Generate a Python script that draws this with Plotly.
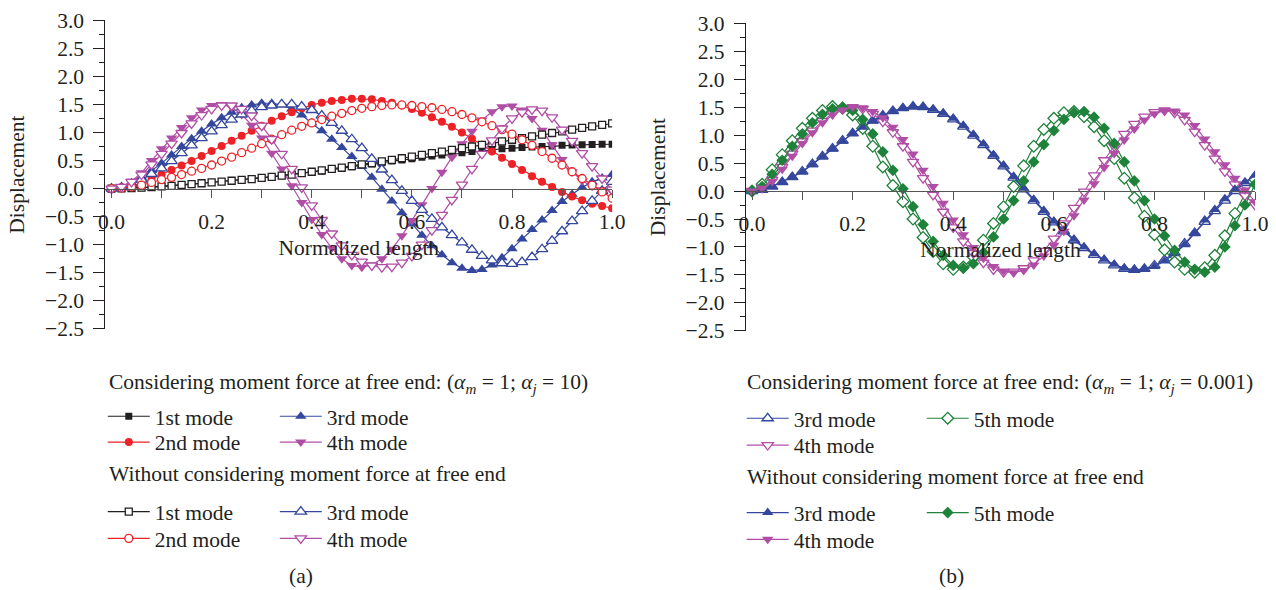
import plotly.graph_objects as go

# ---------------- data ----------------
X = [0.00, 0.02, 0.04, 0.06, 0.08, 0.10, 0.12, 0.14, 0.16, 0.18,
     0.20, 0.22, 0.24, 0.26, 0.28, 0.30, 0.32, 0.34, 0.36, 0.38,
     0.40, 0.42, 0.44, 0.46, 0.48, 0.50, 0.52, 0.54, 0.56, 0.58,
     0.60, 0.62, 0.64, 0.66, 0.68, 0.70, 0.72, 0.74, 0.76, 0.78,
     0.80, 0.82, 0.84, 0.86, 0.88, 0.90, 0.92, 0.94, 0.96, 0.98, 1.00]

# (a) considering moment force (alpha_m = 1, alpha_j = 10) -> filled markers
a_mode1_m = [0, 0.004, 0.01, 0.017, 0.026, 0.04, 0.05, 0.065, 0.08, 0.095,
             0.11, 0.125, 0.14, 0.155, 0.17, 0.19, 0.21, 0.23, 0.25, 0.27,
             0.29, 0.31, 0.34, 0.36, 0.39, 0.41, 0.44, 0.46, 0.49, 0.51,
             0.53, 0.56, 0.58, 0.60, 0.62, 0.64, 0.66, 0.68, 0.69, 0.71,
             0.72, 0.73, 0.74, 0.75, 0.76, 0.77, 0.775, 0.78, 0.785, 0.79, 0.79]
a_mode2_m = [0, 0.02, 0.05, 0.10, 0.17, 0.25, 0.33, 0.41, 0.49, 0.58,
             0.67, 0.76, 0.85, 0.94, 1.03, 1.12, 1.21, 1.29, 1.36, 1.43,
             1.49, 1.53, 1.56, 1.58, 1.60, 1.60, 1.59, 1.56, 1.53, 1.48,
             1.42, 1.35, 1.27, 1.19, 1.10, 1.00, 0.89, 0.78, 0.66, 0.55,
             0.44, 0.33, 0.22, 0.12, 0.03, -0.06, -0.14, -0.21, -0.27, -0.31, -0.35]
a_mode3_m = [0, 0.03, 0.10, 0.20, 0.32, 0.45, 0.60, 0.75, 0.89, 1.02,
             1.15, 1.26, 1.36, 1.44, 1.49, 1.52, 1.52, 1.49, 1.42, 1.31,
             1.17, 1.03, 0.88, 0.73, 0.57, 0.40, 0.20, -0.01, -0.22, -0.43,
             -0.63, -0.83, -1.02, -1.18, -1.32, -1.42, -1.46, -1.44, -1.36, -1.23,
             -1.07, -0.90, -0.73, -0.56, -0.39, -0.23, -0.10, 0.02, 0.12, 0.19, 0.25]
a_mode4_m = [0, 0.03, 0.13, 0.28, 0.50, 0.71, 0.90, 1.09, 1.26, 1.40,
             1.48, 1.50, 1.45, 1.32, 1.13, 0.90, 0.63, 0.35, 0.05, -0.25,
             -0.55, -0.82, -1.06, -1.25, -1.37, -1.40, -1.36, -1.25, -1.08, -0.84,
             -0.57, -0.29, 0.00, 0.29, 0.56, 0.80, 1.02, 1.22, 1.37, 1.46,
             1.47, 1.40, 1.25, 1.04, 0.78, 0.52, 0.30, 0.14, 0.04, -0.02, -0.05]

# (a) without moment force -> open markers
a_mode1_n = [0, 0.004, 0.01, 0.017, 0.026, 0.04, 0.05, 0.065, 0.08, 0.095,
             0.11, 0.125, 0.14, 0.155, 0.17, 0.19, 0.21, 0.23, 0.25, 0.275,
             0.30, 0.325, 0.35, 0.375, 0.40, 0.43, 0.455, 0.485, 0.51, 0.54,
             0.57, 0.60, 0.63, 0.66, 0.69, 0.72, 0.75, 0.78, 0.81, 0.84,
             0.87, 0.90, 0.93, 0.96, 0.99, 1.02, 1.05, 1.08, 1.11, 1.135, 1.16]
a_mode2_n = [0, 0.01, 0.03, 0.06, 0.11, 0.16, 0.20, 0.25, 0.31, 0.36,
             0.42, 0.49, 0.56, 0.64, 0.72, 0.80, 0.88, 0.96, 1.04, 1.11,
             1.17, 1.23, 1.29, 1.34, 1.39, 1.43, 1.46, 1.48, 1.49, 1.49,
             1.48, 1.46, 1.44, 1.41, 1.37, 1.32, 1.26, 1.19, 1.12, 1.05,
             0.97, 0.87, 0.77, 0.66, 0.54, 0.42, 0.30, 0.18, 0.06, -0.06, -0.17]
a_mode3_n = [0, 0.02, 0.08, 0.16, 0.26, 0.36, 0.49, 0.63, 0.77, 0.90,
             1.02, 1.13, 1.23, 1.32, 1.39, 1.45, 1.48, 1.50, 1.50, 1.46,
             1.40, 1.30, 1.17, 1.03, 0.88, 0.72, 0.53, 0.34, 0.15, -0.04,
             -0.22, -0.38, -0.54, -0.69, -0.83, -0.96, -1.09, -1.20, -1.28, -1.33,
             -1.34, -1.31, -1.22, -1.08, -0.93, -0.76, -0.58, -0.40, -0.22, -0.04, 0.12]
a_mode4_n = [0, 0.03, 0.12, 0.25, 0.43, 0.62, 0.80, 0.99, 1.16, 1.31,
             1.42, 1.48, 1.48, 1.42, 1.30, 1.12, 0.88, 0.62, 0.35, 0.02,
             -0.30, -0.56, -0.80, -1.01, -1.18, -1.30, -1.37, -1.40, -1.39, -1.32,
             -1.20, -1.00, -0.74, -0.47, -0.20, 0.07, 0.35, 0.62, 0.86, 1.07,
             1.25, 1.36, 1.41, 1.39, 1.27, 1.05, 0.85, 0.63, 0.40, 0.18, -0.02]

# (b) considering moment force (alpha_m = 1, alpha_j = 0.001) -> open markers
b_mode3_m = [0, 0.02, 0.08, 0.16, 0.25, 0.35, 0.48, 0.62, 0.76, 0.90,
             1.03, 1.15, 1.26, 1.35, 1.43, 1.48, 1.51, 1.50, 1.45, 1.38,
             1.28, 1.15, 0.99, 0.82, 0.63, 0.44, 0.24, 0.03, -0.17, -0.37,
             -0.56, -0.72, -0.88, -1.02, -1.14, -1.24, -1.33, -1.39, -1.41, -1.39,
             -1.33, -1.23, -1.10, -0.94, -0.75, -0.55, -0.36, -0.17, 0.00, 0.14, 0.26]
b_mode4_m = [0, 0.06, 0.20, 0.43, 0.67, 0.89, 1.08, 1.25, 1.39, 1.47,
             1.50, 1.47, 1.38, 1.24, 1.05, 0.80, 0.52, 0.23, -0.07, -0.37,
             -0.65, -0.90, -1.11, -1.28, -1.40, -1.45, -1.44, -1.38, -1.24, -1.07,
             -0.85, -0.58, -0.30, -0.01, 0.28, 0.55, 0.80, 1.02, 1.20, 1.33,
             1.41, 1.44, 1.40, 1.27, 1.06, 0.82, 0.58, 0.35, 0.12, -0.08, -0.25]
b_mode5_m = [0, 0.12, 0.38, 0.65, 0.90, 1.12, 1.30, 1.44, 1.51, 1.48,
             1.36, 1.12, 0.80, 0.43, 0.10, -0.19, -0.50, -0.83, -1.08, -1.30,
             -1.40, -1.36, -1.18, -0.88, -0.58, -0.28, 0.08, 0.45, 0.80, 1.10,
             1.30, 1.40, 1.42, 1.33, 1.15, 0.90, 0.58, 0.23, -0.12, -0.45,
             -0.78, -1.05, -1.27, -1.40, -1.45, -1.37, -1.15, -0.80, -0.40, -0.05, 0.20]

# (b) without moment force -> filled markers
b_mode3_n = [0, 0.02, 0.08, 0.16, 0.25, 0.34, 0.47, 0.61, 0.75, 0.89,
             1.03, 1.14, 1.25, 1.34, 1.42, 1.48, 1.51, 1.50, 1.46, 1.39,
             1.30, 1.17, 1.01, 0.84, 0.65, 0.46, 0.26, 0.05, -0.15, -0.35,
             -0.54, -0.70, -0.86, -1.00, -1.12, -1.22, -1.31, -1.38, -1.41, -1.40,
             -1.35, -1.25, -1.12, -0.96, -0.75, -0.52, -0.33, -0.14, 0.03, 0.16, 0.28]
b_mode4_n = [0, 0.05, 0.17, 0.39, 0.62, 0.85, 1.04, 1.22, 1.36, 1.45,
             1.50, 1.49, 1.42, 1.31, 1.14, 0.92, 0.66, 0.37, 0.08, -0.22,
             -0.52, -0.78, -1.01, -1.20, -1.35, -1.43, -1.46, -1.42, -1.32, -1.16,
             -0.97, -0.72, -0.44, -0.16, 0.13, 0.42, 0.67, 0.91, 1.11, 1.27,
             1.38, 1.44, 1.43, 1.36, 1.17, 0.93, 0.70, 0.47, 0.23, 0.02, -0.19]
b_mode5_n = [0, 0.08, 0.30, 0.55, 0.80, 1.02, 1.22, 1.37, 1.47, 1.50,
             1.44, 1.28, 1.02, 0.70, 0.37, 0.04, -0.28, -0.60, -0.90, -1.15,
             -1.33, -1.38, -1.30, -1.10, -0.82, -0.50, -0.17, 0.18, 0.52, 0.83,
             1.08, 1.28, 1.40, 1.42, 1.32, 1.12, 0.85, 0.52, 0.18, -0.17,
             -0.50, -0.80, -1.06, -1.27, -1.40, -1.45, -1.36, -1.00, -0.62, -0.25, 0.12]

Y_TICKS = [-2.5, -2.0, -1.5, -1.0, -0.5, 0.0, 0.5, 1.0, 1.5, 2.0, 2.5, 3.0]
X_TICKS = [0.0, 0.2, 0.4, 0.6, 0.8, 1.0]

# ---------------- style ----------------
# The page keeps the browser's 8 px body margin and the snapshot of the page
# comes back slightly resized; target positions (in picture pixels) are mapped
# into figure pixels with the measured factors below.
MARGIN = 8
SX, SY = 1292 / 1276, 610 / 590
W, H = 1284, 602
FONT = "Liberation Serif"
TXT = "#231f20"
BLACK = "#231f20"
RED = "#ec2227"
BLUE = "#34479c"
PURPLE = "#b04ea6"
GREEN = "#1f823a"
FS = 21.5
GREY = "#555555"


def px(xp):
    return (xp * SX - MARGIN) / W


def py(yp):
    return 1 - (yp * SY - MARGIN) / H


fig = go.Figure()


def add(y, color, symbol, filled, size, name, xa, ya, legend):
    marker = dict(symbol=symbol, size=size, color=color if filled else "white",
                  line=dict(color=color, width=0 if filled else 1.3))
    fig.add_trace(go.Scatter(
        x=X, y=y, mode="lines+markers", name=name,
        line=dict(color=color, width=1.2), marker=marker,
        xaxis=xa, yaxis=ya, legend=legend, showlegend=True))


# chart (a)
add(a_mode1_m, BLACK, "square", True, 7, "1st mode", "x", "y", "legend")
add(a_mode3_m, BLUE, "triangle-up", True, 10, "3rd mode", "x", "y", "legend")
add(a_mode2_m, RED, "circle", True, 8, "2nd mode", "x", "y", "legend2")
add(a_mode4_m, PURPLE, "triangle-down", True, 10, "4th mode", "x", "y", "legend2")
add(a_mode1_n, BLACK, "square", False, 7, "1st mode", "x", "y", "legend3")
add(a_mode3_n, BLUE, "triangle-up", False, 10, "3rd mode", "x", "y", "legend3")
add(a_mode2_n, RED, "circle", False, 8, "2nd mode", "x", "y", "legend4")
add(a_mode4_n, PURPLE, "triangle-down", False, 10, "4th mode", "x", "y", "legend4")

# chart (b)
add(b_mode3_m, BLUE, "triangle-up", False, 10, "3rd mode", "x2", "y2", "legend5")
add(b_mode5_m, GREEN, "diamond", False, 9, "5th mode", "x2", "y2", "legend5")
add(b_mode4_m, PURPLE, "triangle-down", False, 10, "4th mode", "x2", "y2", "legend6")
add(b_mode3_n, BLUE, "triangle-up", True, 10, "3rd mode", "x2", "y2", "legend7")
add(b_mode5_n, GREEN, "diamond", True, 9, "5th mode", "x2", "y2", "legend7")
add(b_mode4_n, PURPLE, "triangle-down", True, 10, "4th mode", "x2", "y2", "legend8")

tickfont = dict(family=FONT, size=FS, color=TXT)


def xaxis(dom, pos):
    return dict(domain=dom, range=[-0.012, 1.0], anchor="free", position=pos,
                showline=True, linecolor=GREY, linewidth=1.3,
                ticks="outside", ticklen=8, tickwidth=1.2, tickcolor=GREY,
                tickvals=X_TICKS, tickformat=".1f", ticklabelstandoff=5,
                minor=dict(dtick=0.1, tick0=0, ticks="outside", ticklen=8,
                           tickwidth=1.2, tickcolor=GREY),
                showgrid=False, zeroline=False, tickfont=tickfont,
                title=dict(text="Normalized length", font=tickfont, standoff=7))


def yaxis(dom, anchor):
    return dict(domain=dom, range=[-2.5, 3.0], anchor=anchor,
                showline=True, linecolor=BLACK, linewidth=1.3,
                ticks="outside", ticklen=11, tickwidth=1.2, tickcolor=BLACK,
                tickvals=Y_TICKS, tickformat=".1f", ticklabelstandoff=5,
                minor=dict(dtick=0.25, tick0=0, ticks="outside", ticklen=5,
                           tickwidth=1.2, tickcolor=BLACK),
                showgrid=False, zeroline=False, tickfont=tickfont,
                title=dict(text="Displacement", font=tickfont, standoff=14))


def legend(xp, yp, ew):
    return dict(x=px(xp), y=py(yp), xanchor="left", yanchor="middle",
                orientation="h", bgcolor="rgba(0,0,0,0)", borderwidth=0,
                font=dict(family=FONT, size=FS, color=TXT), itemwidth=42,
                entrywidth=ew, entrywidthmode="pixels", traceorder="normal",
                itemclick=False, itemdoubleclick=False)


EW_A = 115
EW_B = 123
layout = dict(
    width=W, height=H, margin=dict(l=0, r=0, t=0, b=0),
    paper_bgcolor="white", plot_bgcolor="white",
    font=dict(family=FONT, size=FS, color=TXT),
    xaxis=xaxis([px(106.7), px(615)], py(187)),
    yaxis=yaxis([py(328), py(17)], "x"),
    xaxis2=xaxis([px(749.3), px(1260)], py(189)),
    yaxis2=yaxis([py(330), py(20)], "x2"),
    legend=legend(104, 416, EW_A),
    legend2=legend(104, 442, EW_A),
    legend3=legend(104, 512, EW_A),
    legend4=legend(104, 539, EW_A),
    legend5=legend(745, 418, EW_B),
    legend6=legend(745, 445, EW_B),
    legend7=legend(745, 513, EW_B),
    legend8=legend(745, 540, EW_B),
)
fig.update_layout(**layout)

ann_font = dict(family=FONT, size=FS, color=TXT)
notes = [
    (108, 383, "Considering moment force at free end: (<i>α</i><sub><i>m</i></sub> = 1; <i>α</i><sub><i>j</i></sub> = 10)", "left"),
    (108, 474, "Without considering moment force at free end", "left"),
    (748, 383, "Considering moment force at free end: (<i>α</i><sub><i>m</i></sub> = 1; <i>α</i><sub><i>j</i></sub> = 0.001)", "left"),
    (748, 477, "Without considering moment force at free end", "left"),
    (303, 577, "(a)", "center"),
    (955, 577, "(b)", "center"),
]
for xp, yp, text, anchor in notes:
    fig.add_annotation(x=px(xp), y=py(yp), xref="paper", yref="paper", text=text,
                       showarrow=False, xanchor=anchor, yanchor="middle", font=ann_font)

fig.write_html("out.html")
